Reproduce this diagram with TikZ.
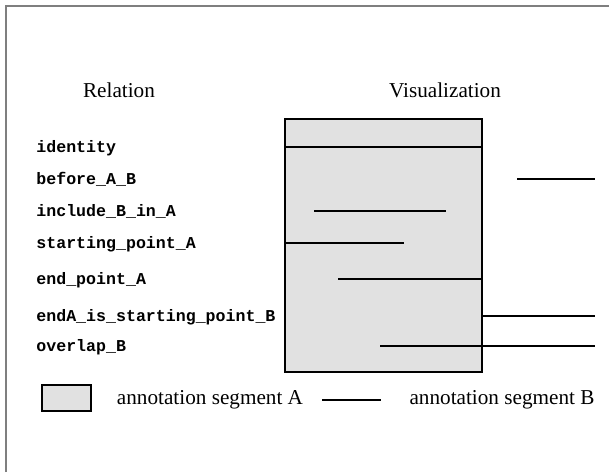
\documentclass[tikz,border=0pt]{standalone}
\usepackage{fontspec}
\setmainfont{Liberation Serif}
\setmonofont{Liberation Mono}
\usepackage{tikz}
\definecolor{segfill}{HTML}{E1E1E1}
\definecolor{framegray}{HTML}{7F7F7F}
\tikzstyle{heading} = [font=\fontsize{10.6}{12}\selectfont, anchor=base, inner sep=0pt]
\tikzstyle{relname} = [font=\fontsize{8.3}{10}\selectfont\ttfamily\bfseries, anchor=base west, inner sep=0pt]
\tikzstyle{segA} = [draw=black, fill=segfill, line width=0.9pt]
\tikzstyle{segB} = [line width=1pt]

\begin{document}
\begin{tikzpicture}[x=0.5pt, y=-0.5pt]
\useasboundingbox (0,0) rectangle (609,472);
\draw [framegray, line width=1pt] (6,472) -- (6,6) -- (609,6);

% headings
\node (rel) [heading] at (119,97) {Relation};
\node (vis) [heading] at (445,97) {Visualization};

% relation names
\node (identity) [relname] at (36,152) {identity};
\node (before) [relname] at (36,184) {before\_A\_B};
\node (include) [relname] at (36,216) {include\_B\_in\_A};
\node (start) [relname] at (36,248) {starting\_point\_A};
\node (endpt) [relname] at (36,284) {end\_point\_A};
\node (meet) [relname] at (36,321) {endA\_is\_starting\_point\_B};
\node (overlap) [relname] at (36,351) {overlap\_B};

% segment A
\coordinate (A1) at (285,119);
\coordinate (A2) at (482,372);
\draw [segA] (A1) rectangle (A2);

% segments B
\draw [segB] (285,147) -- (482,147);
\draw [segB] (517,179) -- (595,179);
\draw [segB] (314,211) -- (446,211);
\draw [segB] (285,243) -- (404,243);
\draw [segB] (338,279) -- (482,279);
\draw [segB] (482,316) -- (595,316);
\draw [segB] (380,346) -- (595,346);

% legend
\node (keyA) [segA, minimum width=24.5pt, minimum height=13pt, inner sep=0pt] at (66.5,398) {};
\node (txtA) [heading] at (210,404) {annotation segment A};
\coordinate (keyB1) at (322,400);
\coordinate (keyB2) at (381,400);
\draw [segB] (keyB1) -- (keyB2);
\node (txtB) [heading] at (502,404) {annotation segment B};
\end{tikzpicture}
\end{document}
